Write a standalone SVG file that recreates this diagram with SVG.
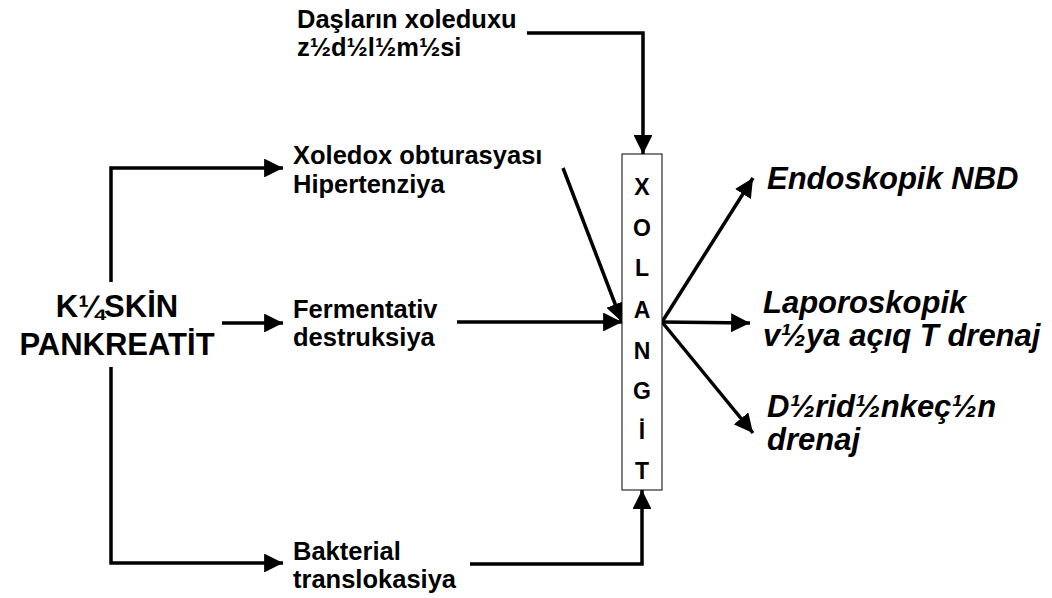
<svg xmlns="http://www.w3.org/2000/svg" width="1052" height="598" viewBox="0 0 1052 598">
<style>
.t{font-family:"Liberation Sans",Arial,sans-serif;font-weight:bold;font-size:25.5px;fill:#000}
.big{font-size:31px}
.it{font-family:"Liberation Sans",Arial,sans-serif;font-weight:bold;font-style:italic;font-size:31px;fill:#000}
.v{font-family:"Liberation Sans",Arial,sans-serif;font-weight:bold;font-size:23px;fill:#000;text-anchor:middle}
.c{fill:none;stroke:#000;stroke-width:3.5}
</style>
<defs>
<marker id="ah" viewBox="0 0 10 10" refX="10" refY="5" markerWidth="5.4" markerHeight="5.4" markerUnits="strokeWidth" orient="auto">
<path d="M0,0 L10,5 L0,10 z" fill="#000"/>
</marker>
</defs>
<rect width="1052" height="598" fill="#fff"/>
<g id="connectors">
<path class="c" d="M111,282 V168 H283" marker-end="url(#ah)"/>
<path class="c" d="M111,367 V563 H283" marker-end="url(#ah)"/>
<path class="c" d="M222,323 H283" marker-end="url(#ah)"/>
<path class="c" d="M527,33 H643 V154" marker-end="url(#ah)"/>
<path class="c" d="M563,168 L622,322" marker-end="url(#ah)"/>
<path class="c" d="M457,322 H622" marker-end="url(#ah)"/>
<path class="c" d="M470,564 H642 V490" marker-end="url(#ah)"/>
<path class="c" d="M662,322 L753,178" marker-end="url(#ah)"/>
<path class="c" d="M662,322 L750,323" marker-end="url(#ah)"/>
<path class="c" d="M662,322 L753,433" marker-end="url(#ah)"/>
</g>
<g id="kesgin">
<text class="t big" x="117" y="317" text-anchor="middle">K¼SKİN</text>
<text class="t big" x="117" y="355" text-anchor="middle">PANKREATİT</text>
</g>
<g id="daslar">
<text class="t" x="297" y="28">Daşların xoleduxu</text>
<text class="t" x="297" y="56">z½d½l½m½si</text>
</g>
<g id="xoledox">
<text class="t" x="293" y="164">Xoledox obturasyası</text>
<text class="t" x="293" y="193">Hipertenziya</text>
</g>
<g id="ferment">
<text class="t" x="293" y="318">Fermentativ</text>
<text class="t" x="293" y="346">destruksiya</text>
</g>
<g id="bakterial">
<text class="t" x="293" y="560">Bakterial</text>
<text class="t" x="293" y="588">translokasiya</text>
</g>
<g id="xolangit">
<rect x="622" y="154" width="40" height="336" fill="#fff" stroke="#000" stroke-width="1"/>
<text class="v" x="642" y="195">X</text>
<text class="v" x="642" y="236">O</text>
<text class="v" x="642" y="276">L</text>
<text class="v" x="642" y="318">A</text>
<text class="v" x="642" y="359">N</text>
<text class="v" x="642" y="399">G</text>
<text class="v" x="642" y="439">İ</text>
<text class="v" x="642" y="479">T</text>
</g>
<g id="endoskopik">
<text class="it" x="767" y="189">Endoskopik NBD</text>
</g>
<g id="laparoskopik">
<text class="it" x="763" y="313">Laporoskopik</text>
<text class="it" x="763" y="346">v½ya açıq T drenaj</text>
</g>
<g id="deriden">
<text class="it" x="767" y="417">D½rid½nkeç½n</text>
<text class="it" x="767" y="450">drenaj</text>
</g>
</svg>
